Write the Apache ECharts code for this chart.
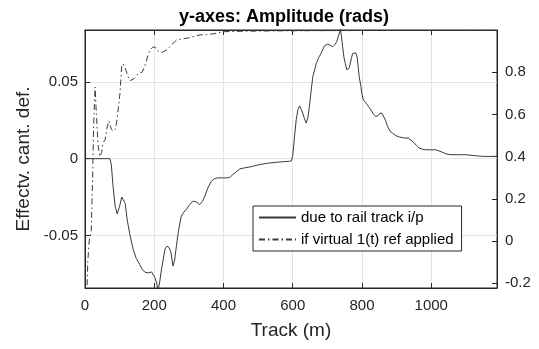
<!DOCTYPE html>
<html>
<head>
<meta charset="utf-8">
<script src="https://cdn.jsdelivr.net/npm/echarts@6/dist/echarts.min.js"></script>
<style>html,body{margin:0;padding:0;background:#fff;}#c{width:539px;height:349px;}</style>
</head>
<body>
<div id="c"></div>
<script>
// Solid line: due to rail track i/p (left axis)
var solidTrack = [0,72,76,81,87,93,100,106,111,116,122,130,139,148,158,165,173,183,192,202,207,211,216,221,226,231,237,243,248,254,259,264,270,278,285,293,302,312,320,331,339,346,355,365,374,384,396,408,418,427,437,447,460,476,490,504,518,533,550,570,590,596,600,605,610,615,620,625,629,634,639,644,648,653,658,663,668,675,682,691,696,701,708,716,722,727,732,738,741,744,748,752,756,759,763,766,770,773,778,782,786,789,792,797,800,804,808,812,819,826,833,840,846,852,858,863,868,874,881,888,898,908,920,934,942,951,958,965,975,984,1000,1013,1023,1033,1045,1057,1080,1100,1125,1148,1170,1190];
var solidValue = [0,0,-0.004,-0.018,-0.031,-0.036,-0.031,-0.025,-0.024,-0.029,-0.04,-0.05,-0.059,-0.065,-0.069,-0.072,-0.074,-0.0745,-0.0738,-0.0775,-0.081,-0.086,-0.08,-0.072,-0.0656,-0.059,-0.057,-0.058,-0.061,-0.07,-0.066,-0.057,-0.047,-0.0375,-0.035,-0.033,-0.03,-0.0277,-0.028,-0.03,-0.028,-0.0245,-0.019,-0.0147,-0.013,-0.0125,-0.0125,-0.0125,-0.0122,-0.0104,-0.0085,-0.0067,-0.006,-0.0054,-0.0046,-0.0039,-0.0033,-0.0028,-0.0024,-0.002,-0.0017,-0.0015,0.002,0.014,0.0253,0.032,0.0344,0.032,0.0297,0.026,0.0232,0.027,0.034,0.044,0.0534,0.0578,0.062,0.066,0.0686,0.0734,0.0745,0.0747,0.074,0.073,0.0745,0.0762,0.08,0.0845,0.079,0.073,0.066,0.062,0.058,0.0567,0.059,0.062,0.066,0.0686,0.0697,0.069,0.0662,0.06,0.0534,0.047,0.042,0.0383,0.037,0.0362,0.034,0.0318,0.029,0.0275,0.028,0.0297,0.0295,0.029,0.025,0.021,0.018,0.0167,0.015,0.0141,0.0136,0.0134,0.012,0.0102,0.0085,0.007,0.0062,0.0058,0.0058,0.0058,0.005,0.0041,0.003,0.0026,0.0026,0.0026,0.002,0.0015,0.0015,0.0015];
// Dash-dot line: if virtual 1(t) ref applied (right axis)
var dashTrack = [0,6,8,12,18,22,25,29,33,38,43,48,53,58,64,69,76,82,88,92,97,101,106,110,116,124,130,142,154,165,173,182,188,197,205,212,224,236,250,265,280,294,312,332,350,371,399,450,550,700,900,1190];
var dashValue = [-0.4,-0.22,-0.1,0.0,0.05,0.3,0.55,0.73,0.6,0.45,0.4,0.42,0.47,0.48,0.54,0.57,0.53,0.52,0.53,0.57,0.64,0.7,0.83,0.84,0.82,0.78,0.76,0.77,0.795,0.8,0.83,0.88,0.906,0.921,0.915,0.898,0.895,0.906,0.93,0.953,0.958,0.961,0.968,0.977,0.978,0.982,0.992,0.994,0.996,0.997,0.998,0.998];
var xTicks = [0,200,400,600,800,1000];
var leftTicks = [-0.05,0,0.05];
var rightTicks = [-0.2,0,0.2,0.4,0.6,0.8];
var seriesNames = ['due to rail track i/p','if virtual 1(t) ref applied'];

function pairs(a,b){return a.map(function(v,i){return [v,b[i]];});}
var FONT = "'Liberation Sans', Arial, Helvetica, sans-serif";
var AX = '#262626';
var chart = echarts.init(document.getElementById('c'), null, {renderer:'canvas'});
chart.setOption({
  animation:false,
  backgroundColor:'#fff',
  textStyle:{fontFamily:FONT},
  title:{text:'y-axes: Amplitude (rads)', left:279, textAlign:'center', top:3,
    textStyle:{fontSize:18, fontWeight:'bold', color:'#000', fontFamily:FONT}},
  grid:{left:85, right:42, top:30, bottom:61, show:true, borderColor:AX, borderWidth:1, backgroundColor:'transparent'},
  legend:{data:seriesNames, orient:'vertical', left:253, top:206, itemWidth:37, itemHeight:14, itemGap:7, itemTextGap:5,
    padding:[4,8,4,5], backgroundColor:'#fff', borderColor:AX, borderWidth:1,
    itemStyle:{opacity:0},
    textStyle:{fontSize:15, color:'#000', fontFamily:FONT}},
  xAxis:[{type:'value', min:0, max:1190, position:'bottom',
    axisLine:{show:true, onZero:false, lineStyle:{color:AX}},
    axisTick:{show:true, inside:true, length:5, customValues:xTicks, lineStyle:{color:AX}},
    axisLabel:{customValues:xTicks, fontSize:15, color:AX, margin:10, fontFamily:FONT,
      formatter:function(v){return String(v);}},
    splitLine:{show:true, lineStyle:{color:'#e3e3e3'}},
    name:'Track (m)', nameLocation:'middle', nameGap:33, nameTextStyle:{fontSize:19, color:AX, fontFamily:FONT}},
   {type:'value', min:0, max:1190, position:'top',
    axisLine:{show:true, onZero:false, lineStyle:{color:AX}},
    axisTick:{show:true, inside:true, length:5, customValues:xTicks, lineStyle:{color:AX}},
    axisLabel:{show:false}, splitLine:{show:false}}],
  yAxis:[{type:'value', min:-0.0843, max:0.0839, position:'left',
    axisLine:{show:true, onZero:false, lineStyle:{color:AX}},
    axisTick:{show:true, inside:true, length:5, customValues:leftTicks, lineStyle:{color:AX}},
    axisLabel:{customValues:leftTicks, fontSize:15, color:AX, margin:7, fontFamily:FONT,
      formatter:function(v){return String(+v.toFixed(3));}},
    splitLine:{show:true, lineStyle:{color:'#e3e3e3'}},
    name:'Effectv. cant. def.', nameLocation:'middle', nameGap:51, nameTextStyle:{fontSize:19, color:AX, fontFamily:FONT}},
   {type:'value', min:-0.222, max:1.0, position:'right',
    axisLine:{show:true, onZero:false, lineStyle:{color:AX}},
    axisTick:{show:true, inside:true, length:5, customValues:rightTicks, lineStyle:{color:AX}},
    axisLabel:{customValues:rightTicks, fontSize:15, color:AX, margin:8, fontFamily:FONT,
      formatter:function(v){return String(+v.toFixed(2));}},
    splitLine:{show:false}}],
  series:[
    {name:seriesNames[0], type:'line', xAxisIndex:0, yAxisIndex:0, data:pairs(solidTrack, solidValue),
      symbol:'none', clip:true, lineStyle:{color:'#3a3a3a', width:1, type:'solid'}, itemStyle:{color:'#3a3a3a'}},
    {name:seriesNames[1], type:'line', xAxisIndex:0, yAxisIndex:1, data:pairs(dashTrack, dashValue),
      symbol:'none', clip:true, lineStyle:{color:'#3a3a3a', width:1, type:[6,3,1.5,3]}, itemStyle:{color:'#3a3a3a'}}
  ]
});
</script>
</body>
</html>
